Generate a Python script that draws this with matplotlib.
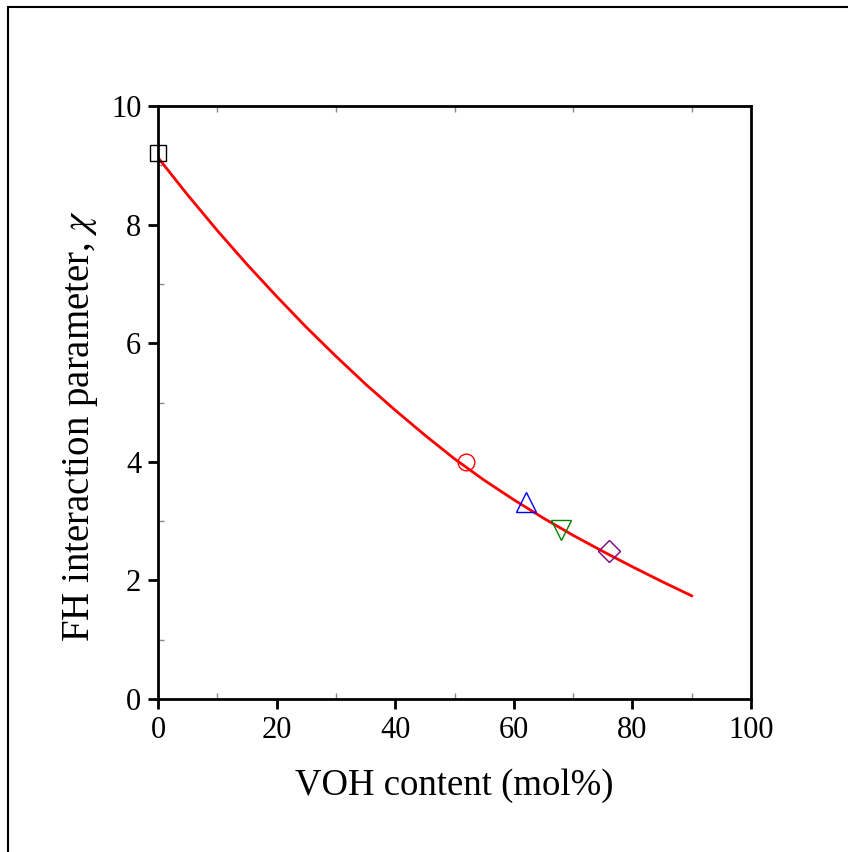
import matplotlib
matplotlib.use("Agg")
import matplotlib.pyplot as plt
from matplotlib.patches import Rectangle

plt.rcParams['font.family'] = ['Liberation Serif', 'DejaVu Serif']
plt.rcParams['mathtext.fontset'] = 'stix'

# measured points (VOH mol%, chi)
pts_x = [0, 52, 62, 68, 76]
pts_y = [9.2, 4.0, 3.33, 2.85, 2.5]
pts_marker = ['s', 'o', '^', 'v', 'D']
pts_color = ['black', 'red', 'blue', 'green', 'purple']
pts_size = [11, 12, 14, 14, 11]

# fit curve
fit_x = [0, 5, 10, 15, 20, 25, 30, 35, 40, 45, 50, 55, 60, 65, 70, 75, 80, 85, 90]
fit_y = [9.13, 8.50, 7.90, 7.33, 6.79, 6.27, 5.78, 5.31, 4.87, 4.45, 4.05,
         3.69, 3.36, 3.05, 2.76, 2.49, 2.23, 1.98, 1.74]

fig = plt.figure(figsize=(8.48, 8.52), dpi=100)
ax = fig.add_axes([158/848, 1-699/852, 593/848, 593/852])

ax.plot(fit_x, fit_y, color='red', lw=2, zorder=2)
for x, y, m, c, s in zip(pts_x, pts_y, pts_marker, pts_color, pts_size):
    ax.plot([x], [y], linestyle='none', marker=m, markersize=s,
            markerfacecolor='none', markeredgecolor=c, markeredgewidth=1, zorder=3,
            clip_on=False)

ax.set_xlim(0, 100)
ax.set_ylim(0, 10)
ax.set_xticks([0, 20, 40, 60, 80, 100])
ax.set_yticks([0, 2, 4, 6, 8, 10])
ax.set_xticks([10, 30, 50, 70, 90], minor=True)
ax.set_yticks([1, 3, 5, 7, 9], minor=True)
ax.tick_params(which='major', direction='out', length=7, width=2, labelsize=22,
               pad=5, top=False, right=False)
ax.tick_params(which='minor', direction='in', length=4, width=1, color='#888888',
               top=True, right=False)
for sp in ax.spines.values():
    sp.set_linewidth(2)

ax.set_xlabel('VOH content (mol%)', fontsize=26.5, labelpad=17)
ax.set_ylabel(r'FH interaction parameter, $\chi$', fontsize=28)
ax.yaxis.set_label_coords(-0.098, 0.46)

fig.patches.append(Rectangle((8/848, -0.05), 1.1, 1.05 - 7/852, transform=fig.transFigure,
                             fill=False, edgecolor='black', lw=1.5))

fig.savefig('out.png', dpi=100)
